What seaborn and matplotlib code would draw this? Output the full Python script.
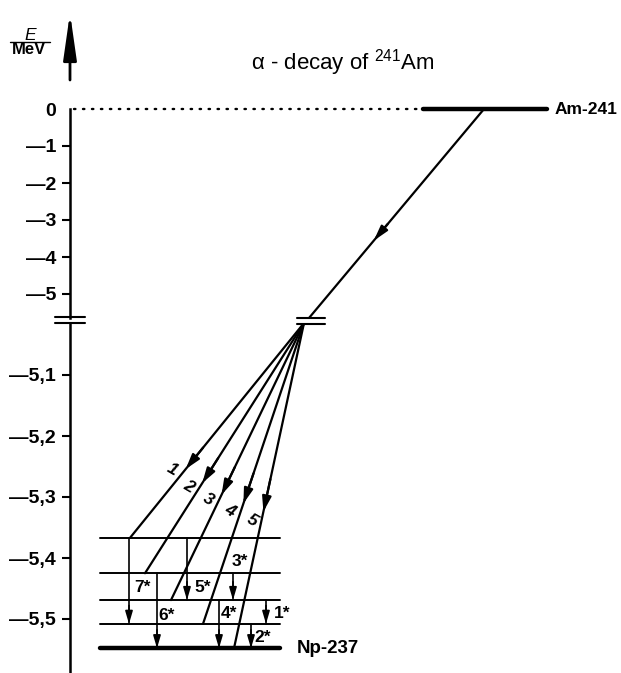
import matplotlib
matplotlib.use("Agg")
import matplotlib.pyplot as plt
import numpy as np
import pandas as pd
import seaborn as sns

# ---------------- data ----------------
upper_ticks = [0, -1, -2, -3, -4, -5]
upper_tick_labels = ["0", "—1", "—2", "—3", "—4", "—5"]
lower_ticks = [-5.1, -5.2, -5.3, -5.4, -5.5]
lower_tick_labels = ["—5,1", "—5,2", "—5,3", "—5,4", "—5,5"]

parent_name = "Am-241"
parent_energy = 0.0
daughter_name = "Np-237"
# Np-237 levels as drawn (alpha end-energies), top -> ground
level_energies = [-5.367, -5.425, -5.469, -5.508, -5.548]

alpha_labels = ["1", "2", "3", "4", "5"]
alpha_target = [0, 1, 2, 3, 4]

gamma_labels = ["1*", "2*", "3*", "4*", "5*", "6*", "7*"]
gamma_from = [2, 3, 1, 2, 0, 1, 0]
gamma_to = [3, 4, 2, 4, 2, 4, 3]

# ---------------- layout (pixels of the 621x673 figure) ----------------
W, H = 621.0, 673.0
AXIS_X = 70
LEVEL_X = (100, 280)
PARENT_X = (423, 547)
BREAK_TOP_X, BREAK_BOT_X = 309, 304
alpha_end_x = [130, 145, 171, 203, 234]
alpha_arrow_frac = [0.68, 0.64, 0.62, 0.60, 0.58]
alpha_label_px = [(172, 470), (189, 487), (208, 500), (230, 511), (252, 521)]
gamma_x = [266, 251, 233, 219, 187, 157, 129]
gamma_label_px = [(282, 613), (263, 637), (240, 562), (229, 614),
                  (203, 587), (167, 615), (142, 587)]

TOP_PIX = (0, 318)      # pixel rows of the upper axes
BOT_PIX = (323, 673)    # pixel rows of the lower axes
top_ylim = (-(318 - 109) / 37.0, 109 / 37.0)
bot_ylim = (-5.1 - (673 - 375) / 610.0, -5.1 + (375 - 323) / 610.0)

sns.set_style("white")
plt.rcParams["font.family"] = ["Liberation Sans", "DejaVu Sans"]
plt.rcParams["text.color"] = "black"
plt.rcParams["mathtext.fontset"] = "custom"
plt.rcParams["mathtext.rm"] = "Liberation Sans"
plt.rcParams["mathtext.it"] = "Liberation Sans:italic"
plt.rcParams["mathtext.bf"] = "Liberation Sans:bold"

fig = plt.figure(figsize=(W / 100, H / 100), dpi=100)
ax_top = fig.add_axes([0, 1 - TOP_PIX[1] / H, 1, (TOP_PIX[1] - TOP_PIX[0]) / H])
ax_bot = fig.add_axes([0, 1 - BOT_PIX[1] / H, 1, (BOT_PIX[1] - BOT_PIX[0]) / H])
ov = fig.add_axes([0, 0, 1, 1])
for a in (ax_top, ax_bot, ov):
    a.patch.set_alpha(0)

K = "black"

# ---------- upper part ----------
df_dot = pd.DataFrame({"x": [AXIS_X + 4, PARENT_X[0]], "E": [parent_energy] * 2})
sns.lineplot(data=df_dot, x="x", y="E", ax=ax_top, color=K, lw=1.7,
             linestyle=(0, (0.6, 3.2)), dash_capstyle="round", legend=False)
df_par = pd.DataFrame({"x": list(PARENT_X), "E": [parent_energy] * 2})
sns.lineplot(data=df_par, x="x", y="E", ax=ax_top, color=K, lw=3.2,
             solid_capstyle="round", legend=False)
ax_top.text(PARENT_X[1] + 8, parent_energy, parent_name, fontsize=12.5,
            fontweight="bold", va="center", ha="left", color=K)

# diagonal parent -> break
x_par = 484
df_diag = pd.DataFrame({"x": [x_par, BREAK_TOP_X], "E": [parent_energy, top_ylim[0]]})
sns.lineplot(data=df_diag, x="x", y="E", ax=ax_top, color=K, lw=1.6,
             sort=False, estimator=None, legend=False)
f = 0.63
tip = (x_par + f * (BREAK_TOP_X - x_par), parent_energy + f * (top_ylim[0] - parent_energy))
tail = (x_par + (f - 0.08) * (BREAK_TOP_X - x_par),
        parent_energy + (f - 0.08) * (top_ylim[0] - parent_energy))
ax_top.annotate("", xy=tip, xytext=tail,
                arrowprops=dict(arrowstyle="-|>,head_length=0.9,head_width=0.25",
                                mutation_scale=10, color=K, lw=1.6,
                                shrinkA=0, shrinkB=0))

# ---------- lower part ----------
n = len(level_energies)
df_lev = pd.DataFrame({
    "x": [LEVEL_X[0], LEVEL_X[1]] * (n - 1),
    "E": np.repeat(level_energies[:-1], 2),
    "u": np.repeat(np.arange(n - 1), 2),
})
sns.lineplot(data=df_lev, x="x", y="E", units="u", estimator=None, sort=False,
             ax=ax_bot, color=K, lw=1.4, legend=False)
df_gs = pd.DataFrame({"x": list(LEVEL_X), "E": [level_energies[-1]] * 2})
sns.lineplot(data=df_gs, x="x", y="E", ax=ax_bot, color=K, lw=3.2,
             solid_capstyle="round", legend=False)
ax_bot.text(LEVEL_X[1] + 17, level_energies[-1], daughter_name, fontsize=13.5,
            fontweight="bold", va="center", ha="left", color=K)

# alpha fan
origin = (BREAK_BOT_X, bot_ylim[1])
rows = []
for i, (xe, t) in enumerate(zip(alpha_end_x, alpha_target)):
    rows += [dict(x=origin[0], E=origin[1], u=i), dict(x=xe, E=level_energies[t], u=i)]
df_fan = pd.DataFrame(rows)
sns.lineplot(data=df_fan, x="x", y="E", units="u", estimator=None, sort=False,
             ax=ax_bot, color=K, lw=1.6, legend=False)
for xe, t, fr in zip(alpha_end_x, alpha_target, alpha_arrow_frac):
    e1 = level_energies[t]
    tip = (origin[0] + fr * (xe - origin[0]), origin[1] + fr * (e1 - origin[1]))
    tail = (origin[0] + (fr - 0.1) * (xe - origin[0]), origin[1] + (fr - 0.1) * (e1 - origin[1]))
    ax_bot.annotate("", xy=tip, xytext=tail,
                    arrowprops=dict(arrowstyle="-|>,head_length=0.9,head_width=0.27",
                                    mutation_scale=10, color=K, lw=1.6,
                                    shrinkA=0, shrinkB=0))

# gamma transitions
rows = []
for i, (gx, a, b) in enumerate(zip(gamma_x, gamma_from, gamma_to)):
    rows += [dict(x=gx, E=level_energies[a], u=i), dict(x=gx, E=level_energies[b], u=i)]
df_g = pd.DataFrame(rows)
sns.lineplot(data=df_g, x="x", y="E", units="u", estimator=None, sort=False,
             ax=ax_bot, color=K, lw=1.2, legend=False)
for gx, b in zip(gamma_x, gamma_to):
    eb = level_energies[b]
    ax_bot.annotate("", xy=(gx, eb), xytext=(gx, eb + 0.03),
                    arrowprops=dict(arrowstyle="-|>,head_length=0.75,head_width=0.22",
                                    mutation_scale=10, color=K, lw=1.2,
                                    shrinkA=0, shrinkB=0))

# ---------- axes styling ----------
for a, lim, ticks, labels in ((ax_top, top_ylim, upper_ticks, upper_tick_labels),
                              (ax_bot, bot_ylim, lower_ticks, lower_tick_labels)):
    for s in ("top", "right", "bottom"):
        a.spines[s].set_visible(False)
    a.spines["left"].set_position(("data", AXIS_X))
    a.spines["left"].set_linewidth(1.8)
    a.spines["left"].set_color(K)
    a.set_xlim(0, W)
    a.set_ylim(*lim)
    a.set_xlabel("")
    a.set_ylabel("")
    a.set_xticks([])
    a.set_yticks(ticks)
    a.set_yticklabels(labels, fontsize=14, fontweight="bold", color=K)
    a.tick_params(axis="y", left=True, direction="out", length=6, width=1.5,
                  pad=4, colors=K)
ax_top.spines["left"].set_bounds(top_ylim[0], 0)
ax_top.yaxis.get_major_ticks()[0].tick1line.set_visible(False)

# ---------- overlay decorations (pixel coordinates) ----------
ov.set_xlim(0, W)
ov.set_ylim(H, 0)
ov.axis("off")
# axis break marks
for y in (317, 323):
    ov.plot([55, 85], [y, y], color=K, lw=1.5)
    ov.plot([297, 325], [y + 1, y + 1], color=K, lw=1.5)
# energy axis arrow
ov.annotate("", xy=(AXIS_X, 13), xytext=(AXIS_X, 80),
            arrowprops=dict(arrowstyle="-|>,head_length=1.4,head_width=0.2",
                            mutation_scale=20, color=K, lw=2.0,
                            shrinkA=0, shrinkB=0))
ov.text(30, 35, "E", fontsize=12.5, style="italic", ha="center", va="center", color=K)
ov.plot([10, 50], [42, 42], color=K, lw=1.0)
ov.text(29, 49, "MeV", fontsize=12, fontweight="bold", ha="center", va="center", color=K)
# title
ov.text(343, 63, r"α - decay of $^{241}$Am", fontsize=16, ha="center", va="center", color=K)
# labels
for lab, (px, py) in zip(alpha_labels, alpha_label_px):
    ov.text(px, py, lab, fontsize=12.5, fontweight="bold", style="italic",
            rotation=-30, ha="center", va="center", color=K)
for lab, (px, py) in zip(gamma_labels, gamma_label_px):
    ov.text(px, py, lab, fontsize=12.5, fontweight="bold", ha="center", va="center", color=K)

fig.savefig("out.png", dpi=100)
